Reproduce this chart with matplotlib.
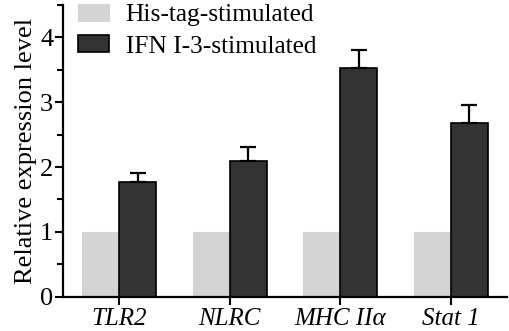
import matplotlib.pyplot as plt
import numpy as np

plt.rcParams['font.family'] = ['Liberation Serif', 'DejaVu Serif']

genes = ["TLR2", "NLRC", "MHC II\u03b1", "Stat 1"]
his_tag = [1.0, 1.0, 1.0, 1.0]
ifn = [1.77, 2.09, 3.52, 2.67]
ifn_err = [0.14, 0.22, 0.28, 0.28]

fig = plt.figure(figsize=(5.10, 3.31), dpi=100)
ax = fig.add_axes([0.1235, 0.103, 0.8705, 0.883])

x = np.arange(len(genes))
w = 0.335
ax.bar(x - w / 2, his_tag, w, color='#d4d4d4', edgecolor='#d4d4d4', linewidth=0.8,
       label="His-tag-stimulated")
ax.bar(x + w / 2, ifn, w, color='#333333', edgecolor='black', linewidth=1.2,
       label="IFN I-3-stimulated")
ax.errorbar(x + w / 2, ifn, yerr=[np.zeros(len(ifn)), ifn_err], fmt='none',
            ecolor='black', elinewidth=1.6, capsize=5.5, capthick=1.6)

ax.set_xlim(-0.506, 3.506)
ax.set_ylim(0, 4.5)
ax.set_yticks([0, 1, 2, 3, 4])
ax.set_yticks([0.5, 1.5, 2.5, 3.5, 4.5], minor=True)
ax.set_xticks(x)
ax.set_xticklabels(genes, style='italic', fontsize=18)
ax.tick_params(axis='y', labelsize=19)
ax.tick_params(axis='both', width=1.5, length=6, direction='out')
ax.tick_params(axis='y', which='minor', width=1.5, length=4)
ax.tick_params(axis='y', pad=1)
ax.tick_params(axis='x', pad=2)
for s in ['top', 'right']:
    ax.spines[s].set_visible(False)
for s in ['left', 'bottom']:
    ax.spines[s].set_linewidth(1.6)
ax.set_ylabel("Relative expression level", fontsize=19, labelpad=2)

ax.legend(loc='upper left', bbox_to_anchor=(0.01, 1.037), frameon=False,
          fontsize=18.3, handlelength=1.22, handleheight=0.65, handletextpad=0.67,
          labelspacing=0.35, borderaxespad=0)

fig.savefig("out.png", dpi=100)
